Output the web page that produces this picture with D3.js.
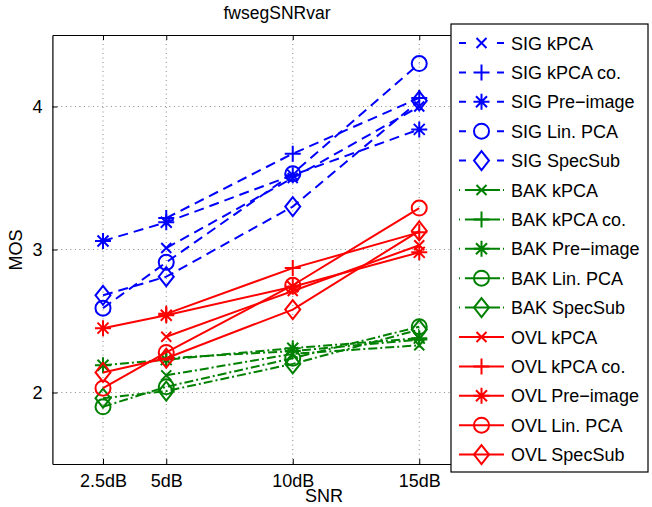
<!DOCTYPE html>
<html><head><meta charset="utf-8">
<script src="https://cdn.jsdelivr.net/npm/d3@7/dist/d3.min.js"></script>
<style>body{margin:0;background:#fff}svg{display:block}text{font-family:"Liberation Sans",Arial,sans-serif}</style>
</head><body>
<script>
const snr = [2.5, 5, 10, 15];
const xTickLabels = ["2.5dB", "5dB", "10dB", "15dB"];
const yTicks = [2, 3, 4];
const sig_kpca   = [null, 3.01, 3.50, 4.00];
const sig_kpcaco = [null, 3.22, 3.67, 4.06];
const sig_pre    = [3.06, 3.19, 3.52, 3.84];
const sig_lin    = [2.59, 2.91, 3.53, 4.30];
const sig_spec   = [2.68, 2.81, 3.30, 4.04];
const bak_kpca   = [null, 2.12, 2.27, 2.33];
const bak_kpcaco = [null, 2.24, 2.29, 2.37];
const bak_pre    = [2.19, 2.23, 2.31, 2.38];
const bak_lin    = [1.90, 2.04, 2.24, 2.46];
const bak_spec   = [1.96, 2.01, 2.20, 2.44];
const ovl_kpca   = [null, 2.39, 2.71, 3.03];
const ovl_kpcaco = [null, 2.55, 2.87, 3.12];
const ovl_pre    = [2.45, 2.54, 2.74, 2.98];
const ovl_lin    = [2.03, 2.28, 2.75, 3.29];
const ovl_spec   = [2.14, 2.24, 2.58, 3.13];

const groups = [
  {pre: "SIG", color: "#0000ff", dash: "10,6", leg: "7,31,7"},
  {pre: "BAK", color: "#008000", dash: "9,3,2,3", leg: "1,5,35,3,1"},
  {pre: "OVL", color: "#ff0000", dash: null, leg: null}
];
const methods = ["kPCA", "kPCA co.", "Pre\u2212image", "Lin. PCA", "SpecSub"];
const markers = ["x", "plus", "star", "circle", "diamond"];
const values = [
  [sig_kpca, sig_kpcaco, sig_pre, sig_lin, sig_spec],
  [bak_kpca, bak_kpcaco, bak_pre, bak_lin, bak_spec],
  [ovl_kpca, ovl_kpcaco, ovl_pre, ovl_lin, ovl_spec]
];

(function () {
const W = 652, H = 507;
const svg = d3.select("body").append("svg").attr("width", W).attr("height", H);
const pL = 52.4, pT = 35, pB = 464;
const x = d3.scaleLinear().domain([0.5, 17.5]).range([pL, pL + 17 * 25.3]);
const y = d3.scaleLinear().domain([1.5, 4.5]).range([pB, pT]);
const pR = x(17.5);
const FS = 18;

// grid
const g = svg.append("g");
snr.forEach(v => g.append("line").attr("x1", x(v)).attr("x2", x(v)).attr("y1", pT).attr("y2", pB)
  .attr("stroke", "#888").attr("stroke-dasharray", "1,3.5").attr("stroke-width", 1));
yTicks.forEach(v => g.append("line").attr("x1", pL).attr("x2", pR).attr("y1", y(v)).attr("y2", y(v))
  .attr("stroke", "#888").attr("stroke-dasharray", "1,3.5").attr("stroke-width", 1));

// axes
const xAxB = d3.axisBottom(x).tickValues(snr).tickFormat((d, i) => xTickLabels[i]).tickSizeInner(-5).tickSizeOuter(0).tickPadding(10);
const xAxT = d3.axisTop(x).tickValues(snr).tickFormat("").tickSizeInner(-5).tickSizeOuter(0);
const yAxL = d3.axisLeft(y).tickValues(yTicks).tickFormat(d3.format("d")).tickSizeInner(-5).tickSizeOuter(0).tickPadding(10);
[svg.append("g").attr("transform", `translate(0,${pB})`).call(xAxB),
 svg.append("g").attr("transform", `translate(0,${pT})`).call(xAxT),
 svg.append("g").attr("transform", `translate(${pL},0)`).call(yAxL)].forEach(a => {
  a.selectAll("path").attr("stroke", "#000").attr("stroke-width", 1.2);
  a.selectAll("line").attr("stroke", "#000");
  a.selectAll("text").attr("font-size", FS).attr("fill", "#000").attr("font-family", '"Liberation Sans",Arial,sans-serif');
});

function markerPath(type) {
  switch (type) {
    case "x": return "M-5,-5L5,5M-5,5L5,-5";
    case "plus": return "M-8,0H8M0,-8V8";
    case "star": return "M-8,0H8M0,-8V8M-5.5,-5.5L5.5,5.5M-5.5,5.5L5.5,-5.5";
    case "circle": return "M7.5,0A7.5,7.5 0 1,1 -7.5,0A7.5,7.5 0 1,1 7.5,0Z";
    case "diamond": return "M0,-9.5L7.5,0L0,9.5L-7.5,0Z";
  }
}

const line = d3.line().defined(d => d[1] != null).x(d => x(d[0])).y(d => y(d[1]));
const plot = svg.append("g");
groups.forEach((gr, gi) => {
  values[gi].forEach((vals, mi) => {
    const pts = snr.map((s, i) => [s, vals[i]]);
    plot.append("path").attr("d", line(pts)).attr("fill", "none").attr("stroke", gr.color)
      .attr("stroke-width", 2).attr("stroke-dasharray", gr.dash);
    pts.filter(p => p[1] != null).forEach(p => {
      plot.append("path").attr("d", markerPath(markers[mi])).attr("transform", `translate(${x(p[0])},${y(p[1])})`)
        .attr("fill", "none").attr("stroke", gr.color).attr("stroke-width", 2);
    });
  });
});

// labels
svg.append("text").attr("x", 277).attr("y", 19).attr("text-anchor", "middle").attr("font-size", 17.5).text("fwsegSNRvar");
svg.append("text").attr("x", 324).attr("y", 502).attr("text-anchor", "middle").attr("font-size", FS).text("SNR");
svg.append("text").attr("transform", "translate(22,250) rotate(-90)").attr("text-anchor", "middle").attr("font-size", FS).text("MOS");

// legend
const lg = svg.append("g");
lg.append("rect").attr("x", 451).attr("y", 24).attr("width", 197).attr("height", 448)
  .attr("fill", "#fff").attr("stroke", "#000").attr("stroke-width", 1.2);
let k = 0;
groups.forEach((gr, gi) => {
  methods.forEach((m, mi) => {
    const yy = 43 + k * 29.4;
    lg.append("line").attr("x1", 459).attr("x2", 504).attr("y1", yy).attr("y2", yy)
      .attr("stroke", gr.color).attr("stroke-width", 2).attr("stroke-dasharray", gr.leg);
    lg.append("path").attr("d", markerPath(markers[mi])).attr("transform", `translate(481.5,${yy})`)
      .attr("fill", "none").attr("stroke", gr.color).attr("stroke-width", 2);
    lg.append("text").attr("x", 511).attr("y", yy + 6.5).attr("font-size", FS).text(gr.pre + " " + m);
    k++;
  });
});
})();
</script>
</body></html>
